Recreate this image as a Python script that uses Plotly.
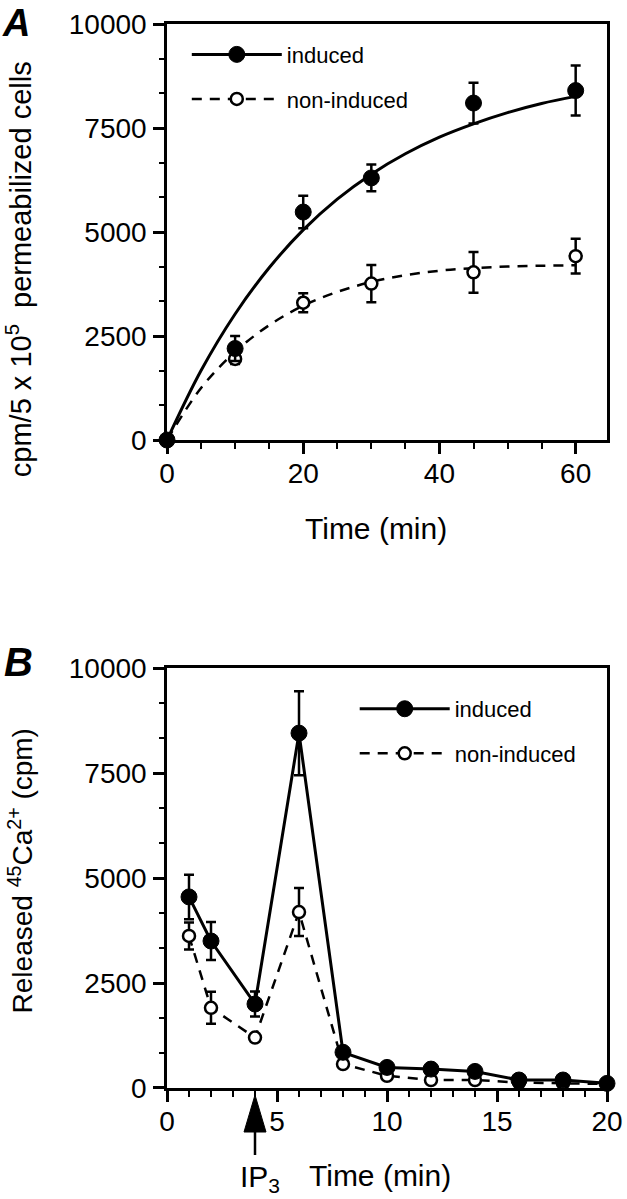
import plotly.graph_objects as go

# ---------------- Panel A data ----------------
t_A = [0, 10, 20, 30, 45, 60]
induced_A = [0, 2200, 5480, 6300, 8100, 8400]
induced_A_err = [0, 300, 390, 320, 490, 600]
noninduced_A = [0, 1950, 3300, 3760, 4030, 4420]
noninduced_A_err = [0, 120, 230, 450, 490, 420]

# fitted curves
t_fit = [0, 5, 10, 15, 20, 25, 30, 35, 40, 45, 50, 55, 60]
induced_fit = [0, 1670, 3030, 4140, 5050, 5790, 6390, 6880, 7280, 7600, 7870, 8090, 8260]
noninduced_fit = [0, 1250, 2120, 2760, 3230, 3560, 3800, 3960, 4070, 4130, 4170, 4190, 4200]

# ---------------- Panel B data ----------------
t_B = [1, 2, 4, 6, 8, 10, 12, 14, 16, 18, 20]
induced_B = [4550, 3500, 2000, 8450, 850, 490, 450, 395, 190, 190, 110]
induced_B_err = [530, 450, 300, 1000, 0, 0, 0, 0, 0, 0, 0]
noninduced_B = [3620, 1910, 1200, 4190, 570, 290, 190, 190, 130, 110, 95]
noninduced_B_err = [320, 380, 0, 570, 0, 0, 0, 0, 0, 0, 0]

ticks_A_x = [0, 20, 40, 60]
ticks_B_x = [0, 5, 10, 15, 20]
ticks_y = [0, 2500, 5000, 7500, 10000]
ticks_y_text = ["0", "2500", "5000", "7500", "10000"]

FONT = "Liberation Sans, Arial, Helvetica, sans-serif"
BLACK = "black"
DASH = "10px,8px"

filled = dict(symbol="circle", size=16, color=BLACK, line=dict(color=BLACK, width=1))
opened = dict(symbol="circle", size=12, color="white", line=dict(color=BLACK, width=2.5))

def err(arr):
    return dict(type="data", array=arr, visible=True, color=BLACK, thickness=2.5, width=5)

fig = go.Figure()

# ----- Panel A -----
fig.add_trace(go.Scatter(x=t_fit, y=noninduced_fit, mode="lines", line=dict(color=BLACK, width=2.5, dash=DASH, shape="spline"),
                         xaxis="x", yaxis="y", showlegend=False, hoverinfo="skip"))
fig.add_trace(go.Scatter(x=t_fit, y=induced_fit, mode="lines", line=dict(color=BLACK, width=3, shape="spline"),
                         xaxis="x", yaxis="y", showlegend=False, hoverinfo="skip"))
fig.add_trace(go.Scatter(x=t_A, y=noninduced_A, mode="markers", marker=opened, error_y=err(noninduced_A_err),
                         xaxis="x", yaxis="y", showlegend=False, cliponaxis=False))
fig.add_trace(go.Scatter(x=t_A, y=induced_A, mode="markers", marker=filled, error_y=err(induced_A_err),
                         xaxis="x", yaxis="y", showlegend=False, cliponaxis=False))
# legend entries A
fig.add_trace(go.Scatter(x=[None], y=[None], mode="lines+markers", name="induced", legend="legend", legendgroup="a1",
                         line=dict(color=BLACK, width=3), marker=filled, xaxis="x", yaxis="y"))
fig.add_trace(go.Scatter(x=[None], y=[None], mode="lines+markers", name="non-induced", legend="legend", legendgroup="a2",
                         line=dict(color=BLACK, width=2.5, dash=DASH), marker=opened, xaxis="x", yaxis="y"))

# ----- Panel B -----
fig.add_trace(go.Scatter(x=t_B, y=noninduced_B, mode="lines+markers", line=dict(color=BLACK, width=2.5, dash=DASH),
                         marker=opened, error_y=err(noninduced_B_err), xaxis="x2", yaxis="y2", showlegend=False, cliponaxis=False))
fig.add_trace(go.Scatter(x=t_B, y=induced_B, mode="lines+markers", line=dict(color=BLACK, width=3),
                         marker=filled, error_y=err(induced_B_err), xaxis="x2", yaxis="y2", showlegend=False, cliponaxis=False))
fig.add_trace(go.Scatter(x=[None], y=[None], mode="lines+markers", name="induced", legend="legend2", legendgroup="b1",
                         line=dict(color=BLACK, width=3), marker=filled, xaxis="x2", yaxis="y2"))
fig.add_trace(go.Scatter(x=[None], y=[None], mode="lines+markers", name="non-induced", legend="legend2", legendgroup="b2",
                         line=dict(color=BLACK, width=2.5, dash=DASH), marker=opened, xaxis="x2", yaxis="y2"))

TICKFONT = dict(family=FONT, size=28, color=BLACK)

def axis(**kw):
    d = dict(showline=True, linecolor=BLACK, linewidth=2.5, mirror=True, showgrid=False, zeroline=False,
             ticks="outside", ticklen=11, tickwidth=2.5, tickcolor=BLACK, tickfont=TICKFONT, automargin=False)
    d.update(kw)
    return d

fig.update_layout(
    width=627, height=1199, autosize=False,
    margin=dict(l=167, r=20, t=24, b=111, autoexpand=False),
    paper_bgcolor="white", plot_bgcolor="white",
    font=dict(family=FONT, color=BLACK),
    xaxis=axis(domain=[0, 1], anchor="y", range=[0, 64.6], tickvals=ticks_A_x,
               minor=dict(dtick=5, tick0=0, ticklen=6, tickwidth=2, tickcolor=BLACK, ticks="outside"),
               ticklabelstandoff=-4),
    yaxis=axis(domain=[0.609, 1], anchor="x", range=[0, 10000], tickvals=ticks_y, ticktext=ticks_y_text,
               minor=dict(dtick=2500 / 3, tick0=0, ticklen=5, tickwidth=2, tickcolor=BLACK, ticks="outside"),
               ticklabelstandoff=1),
    xaxis2=axis(domain=[0, 1], anchor="y2", range=[0, 20], tickvals=ticks_B_x,
                minor=dict(dtick=1, tick0=0, ticklen=6, tickwidth=2, tickcolor=BLACK, ticks="outside"),
                ticklabelstandoff=-4),
    yaxis2=axis(domain=[0, 0.3947], anchor="x2", range=[0, 10000], tickvals=ticks_y, ticktext=ticks_y_text,
                minor=dict(dtick=2500 / 3, tick0=0, ticklen=5, tickwidth=2, tickcolor=BLACK, ticks="outside"),
                ticklabelstandoff=1),
    legend=dict(x=0.045, y=0.991, xanchor="left", yanchor="top", bgcolor="rgba(0,0,0,0)",
                font=dict(family=FONT, size=22, color=BLACK), itemwidth=90, tracegroupgap=13,
                traceorder="grouped"),
    legend2=dict(x=0.4266, y=0.376, xanchor="left", yanchor="top", bgcolor="rgba(0,0,0,0)",
                 font=dict(family=FONT, size=22, color=BLACK), itemwidth=90, tracegroupgap=13,
                 traceorder="grouped"),
)

ann = []
ann.append(dict(text="<b><i>A</i></b>", xref="paper", yref="paper", x=-0.3795, y=1.0226, xanchor="left", yanchor="top",
                showarrow=False, font=dict(family=FONT, size=38, color=BLACK)))
ann.append(dict(text="<b><i>B</i></b>", xref="paper", yref="paper", x=-0.375, y=0.4004, xanchor="left", yanchor="middle",
                showarrow=False, font=dict(family=FONT, size=40, color=BLACK)))
ann.append(dict(text="cpm/5 x 10<sup>5</sup>  permeabilized cells", xref="paper", yref="paper", x=-0.336, y=0.7697,
                xanchor="center", yanchor="middle", textangle=-90, showarrow=False,
                font=dict(family=FONT, size=29, color=BLACK)))
ann.append(dict(text="Released <sup>45</sup>Ca<sup>2+</sup> (cpm)", xref="paper", yref="paper", x=-0.333, y=0.204,
                xanchor="center", yanchor="middle", textangle=-90, showarrow=False,
                font=dict(family=FONT, size=28, color=BLACK)))
ann.append(dict(text="Time (min)", xref="paper", yref="paper", x=0.475, y=0.5263, xanchor="center", yanchor="middle",
                showarrow=False, font=dict(family=FONT, size=30, color=BLACK)))
ann.append(dict(text="Time (min)", xref="paper", yref="paper", x=0.484, y=-0.0827, xanchor="center", yanchor="middle",
                showarrow=False, font=dict(family=FONT, size=30, color=BLACK)))
ann.append(dict(text="IP<sub>3</sub>", xref="paper", yref="paper", x=0.2114, y=-0.0846, xanchor="center", yanchor="middle",
                showarrow=False, font=dict(family=FONT, size=30, color=BLACK)))
fig.update_layout(annotations=ann)

# IP3 arrow (filled triangle + stem) below the B x-axis at t = 4
fig.add_shape(type="path", xref="x2", yref="paper", xsizemode="pixel", ysizemode="pixel", xanchor=4, yanchor=0,
              path="M0,-7 L11,-44 L-11,-44 Z", fillcolor=BLACK, line=dict(color=BLACK, width=1))
fig.add_shape(type="line", xref="x2", yref="paper", xsizemode="pixel", ysizemode="pixel", xanchor=4, yanchor=0,
              x0=0, x1=0, y0=-44, y1=-67, line=dict(color=BLACK, width=2.5))

fig.write_html("out.html", config={"displayModeBar": False},
               post_script="document.body.style.margin='0';document.body.style.overflow='hidden';")
